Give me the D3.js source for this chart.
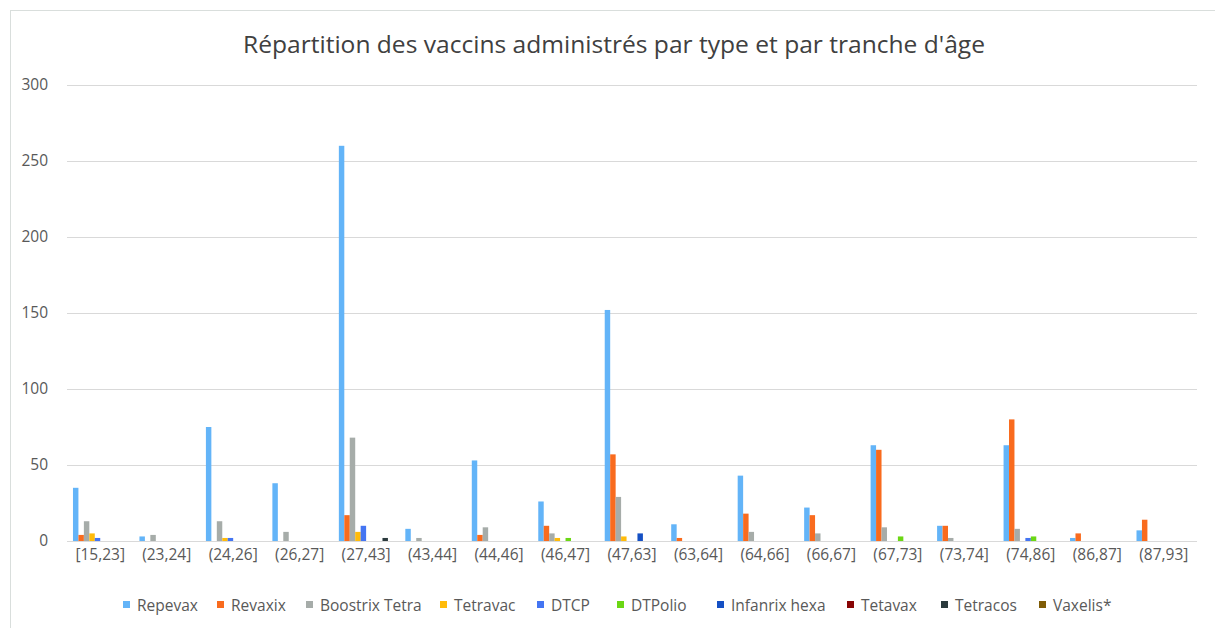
<!DOCTYPE html>
<html>
<head>
<meta charset="utf-8">
<script src="https://cdn.jsdelivr.net/npm/d3@7"></script>
<style>
  body { margin: 0; background: #fff; }
  text { font-family: "Open Sans", Lato, sans-serif; fill: #595959; }
</style>
</head>
<body>
<script>
// tranches d'age
var categories = ['[15,23]', '(23,24]', '(24,26]', '(26,27]', '(27,43]', '(43,44]', '(44,46]', '(46,47]',
  '(47,63]', '(63,64]', '(64,66]', '(66,67]', '(67,73]', '(73,74]', '(74,86]', '(86,87]', '(87,93]'];

var seriesNames = ['Repevax', 'Revaxix', 'Boostrix Tetra', 'Tetravac', 'DTCP', 'DTPolio',
  'Infanrix hexa', 'Tetavax', 'Tetracos', 'Vaxelis*'];
var colors = ['#63b4f8', '#f96b1e', '#a6aca9', '#ffbb0a', '#4475f2', '#6bd714',
  '#1550c4', '#880404', '#2b3a3d', '#7f5c06'];

// valeurs par vaccin, dans l'ordre des tranches
var repevax  = [35, 3, 75, 38, 260, 8, 53, 26, 152, 11, 43, 22, 63, 10, 63, 2, 7];
var revaxix  = [4, 0, 0, 0, 17, 0, 4, 10, 57, 2, 18, 17, 60, 10, 80, 5, 14];
var boostrix = [13, 4, 13, 6, 68, 2, 9, 5, 29, 0, 6, 5, 9, 2, 8, 0, 0];
var tetravac = [5, 0, 2, 0, 6, 0, 0, 2, 3, 0, 0, 0, 0, 0, 0, 0, 0];
var dtcp     = [2, 0, 2, 0, 10, 0, 0, 0, 0, 0, 0, 0, 0, 0, 2, 0, 0];
var dtpolio  = [0, 0, 0, 0, 0, 0, 0, 2, 0, 0, 0, 0, 3, 0, 3, 0, 0];
var infanrix = [0, 0, 0, 0, 0, 0, 0, 0, 5, 0, 0, 0, 0, 0, 0, 0, 0];
var tetavax  = [0, 0, 0, 0, 0, 0, 0, 0, 0, 0, 0, 0, 0, 0, 0, 0, 0];
var tetracos = [0, 0, 0, 0, 2, 0, 0, 0, 0, 0, 0, 0, 0, 0, 0, 0, 0];
var vaxelis  = [0, 0, 0, 0, 0, 0, 0, 0, 0, 0, 0, 0, 0, 0, 0, 0, 0];

var yTicks = [0, 50, 100, 150, 200, 250, 300];

var allSeries = [repevax, revaxix, boostrix, tetravac, dtcp, dtpolio, infanrix, tetavax, tetracos, vaxelis];

var width = 1215, height = 628;
var margin = {left: 67, right: 18, top: 85, bottom: 87};

var svg = d3.select('body').append('svg')
  .attr('width', width)
  .attr('height', height);

// cadre du graphique
svg.append('rect')
  .attr('x', 10.5).attr('y', 10.5)
  .attr('width', 1220).attr('height', 640)
  .attr('fill', 'none')
  .attr('stroke', '#d9dedc');

svg.append('text')
  .attr('x', 614).attr('y', 53)
  .attr('text-anchor', 'middle')
  .attr('textLength', 742)
  .attr('lengthAdjust', 'spacingAndGlyphs')
  .style('font-size', '23px')
  .style('fill', '#404040')
  .text("Répartition des vaccins administrés par type et par tranche d'âge");

var x0 = d3.scaleBand()
  .domain(categories)
  .range([margin.left, width - margin.right]);

var x1 = d3.scaleBand()
  .domain(d3.range(seriesNames.length))
  .range([0, x0.bandwidth()])
  .paddingOuter(1.095);

var y = d3.scaleLinear()
  .domain([0, 300])
  .range([height - margin.bottom, margin.top]);

// grille
svg.append('g')
  .selectAll('line')
  .data(yTicks)
  .enter().append('line')
  .attr('x1', margin.left).attr('x2', width - margin.right)
  .attr('y1', function(d) { return Math.round(y(d)) + 0.5; })
  .attr('y2', function(d) { return Math.round(y(d)) + 0.5; })
  .attr('stroke', '#d9d9d9')
  .attr('stroke-width', 1);

var yAxis = svg.append('g')
  .attr('transform', 'translate(' + (margin.left - 16) + ',0)')
  .call(d3.axisLeft(y).tickValues(yTicks).tickSize(0));
yAxis.select('.domain').remove();
yAxis.selectAll('text').style('font-size', '15.5px').style('fill', '#595959');

var groups = svg.append('g')
  .selectAll('g')
  .data(categories)
  .enter().append('g')
  .attr('transform', function(d) { return 'translate(' + x0(d) + ',0)'; });

groups.selectAll('rect')
  .data(function(d, i) {
    return allSeries.map(function(s, k) { return {k: k, v: s[i]}; });
  })
  .enter().append('rect')
  .filter(function(d) { return d.v > 0; })
  .attr('x', function(d) { return x1(d.k); })
  .attr('width', x1.bandwidth())
  .attr('y', function(d) { return y(d.v); })
  .attr('height', function(d) { return y(0) - y(d.v); })
  .attr('fill', function(d) { return colors[d.k]; });

// axe du bas
svg.append('line')
  .attr('x1', margin.left).attr('x2', width - margin.right)
  .attr('y1', Math.round(y(0)) + 0.5).attr('y2', Math.round(y(0)) + 0.5)
  .attr('stroke', '#d9d9d9');

var xAxis = svg.append('g')
  .attr('transform', 'translate(0,' + y(0) + ')')
  .call(d3.axisBottom(x0).tickSize(0).tickPadding(8));
xAxis.select('.domain').remove();
xAxis.selectAll('text').style('font-size', '15.5px').style('fill', '#595959');

// legende
var legendX = [123, 217, 306, 440, 537, 617, 717, 847, 941, 1039];
var legend = svg.append('g')
  .selectAll('g')
  .data(seriesNames)
  .enter().append('g')
  .attr('transform', function(d, i) { return 'translate(' + legendX[i] + ',605)'; });

legend.append('rect')
  .attr('x', 0).attr('y', -4)
  .attr('width', 7).attr('height', 7)
  .attr('fill', function(d, i) { return colors[i]; });

legend.append('text')
  .attr('x', 14).attr('y', 5.5)
  .style('font-size', '15.5px')
  .style('fill', '#595959')
  .text(function(d) { return d; });
</script>
</body>
</html>
